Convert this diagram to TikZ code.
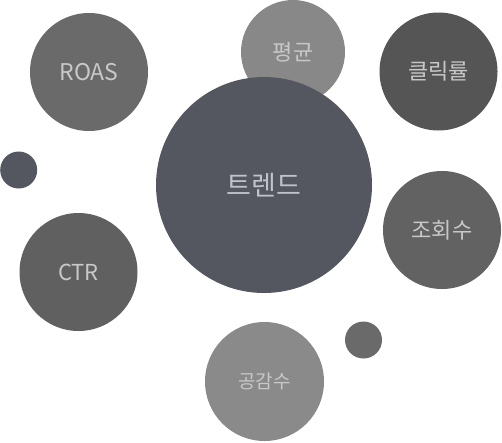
\documentclass[tikz,border=0pt]{standalone}
\usepackage{fontspec}
\setmainfont{Noto Sans CJK KR}
\definecolor{cTrend}{HTML}{545660}
\definecolor{cRoas}{HTML}{6A6A6A}
\definecolor{cAvg}{HTML}{888888}
\definecolor{cClick}{HTML}{555555}
\definecolor{cCtr}{HTML}{606060}
\definecolor{cView}{HTML}{626262}
\definecolor{cLike}{HTML}{8A8A8A}
\definecolor{cDot}{HTML}{6A6A6A}
\definecolor{cText}{HTML}{C8C8C8}
\definecolor{cTextT}{HTML}{C0C3CA}
\begin{document}
\begin{tikzpicture}[x=1pt,y=-1pt,
  bubble/.style={circle,inner sep=0pt,outer sep=0pt,draw=none,text=cText,font=\fontsize{21}{24}\selectfont}]
\useasboundingbox (0,0) rectangle (502,442);
\node[bubble,fill=cRoas,minimum size=118pt,font=\fontsize{23}{27}\selectfont] (roas) at (89,72) {ROAS};
\node[bubble,fill=cAvg,minimum size=104pt,font=\fontsize{22}{26}\selectfont] (avg) at (293,52) {평균};
\node[bubble,fill=cClick,minimum size=118pt,font=\fontsize{22}{26}\selectfont] (click) at (438.5,71.5) {클릭률};
\node[bubble,fill=cTrend,minimum size=216pt,text=cTextT,font=\fontsize{27}{32}\selectfont] (trend) at (264,185) {트렌드};
\node[bubble,fill=cTrend,minimum size=37pt] (dotl) at (18.7,170) {};
\node[bubble,fill=cCtr,minimum size=118pt,font=\fontsize{22}{26}\selectfont] (ctr) at (78.5,272) {CTR};
\node[bubble,fill=cView,minimum size=118pt,font=\fontsize{22}{26}\selectfont] (view) at (442,230) {조회수};
\node[bubble,fill=cLike,minimum size=119pt,font=\fontsize{19}{23}\selectfont] (like) at (264.5,381.5) {공감수};
\node[bubble,fill=cDot,minimum size=37pt] (dotr) at (363.5,340) {};
\end{tikzpicture}
\end{document}
